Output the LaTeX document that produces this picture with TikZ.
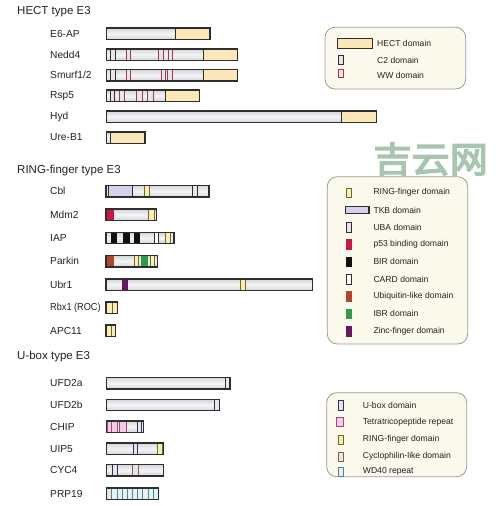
\documentclass[tikz,border=0pt]{standalone}
\usepackage{fontspec}
\setmainfont{Liberation Sans}
\newfontfamily\cjkwm[FakeBold=4]{Noto Sans CJK SC}
\definecolor{textc}{HTML}{222222}
\definecolor{bartop}{HTML}{D6D6DB}
\definecolor{barmid}{HTML}{F4F4F6}
\definecolor{barfill}{HTML}{E6E6EA}
\definecolor{barline}{HTML}{2E2E2E}
\definecolor{hectc}{HTML}{FBE7B8}
\definecolor{wwred}{HTML}{A8374A}
\definecolor{ringc}{HTML}{F6EFB0}
\definecolor{ringl}{HTML}{6F6A2A}
\definecolor{tkbc}{HTML}{D7D0EC}
\definecolor{tkbl}{HTML}{2E2450}
\definecolor{p53c}{HTML}{C81848}
\definecolor{birc}{HTML}{111111}
\definecolor{ublc}{HTML}{B2462C}
\definecolor{ibrc}{HTML}{2F9A4C}
\definecolor{zincc}{HTML}{6B1561}
\definecolor{tprc}{HTML}{F2CBE2}
\definecolor{tprl}{HTML}{9A4A7A}
\definecolor{uboxl}{HTML}{2B3358}
\definecolor{cycl}{HTML}{8A5C3C}
\definecolor{wdl}{HTML}{4F8796}
\definecolor{wdc}{HTML}{E6F0F2}
\definecolor{legbg}{HTML}{FBF9EC}
\definecolor{legline}{HTML}{9C9C92}
\definecolor{wmc}{HTML}{A6C6B0}
\newcommand\Pbody[3]{\shade[top color=bartop, bottom color=bartop, middle color=barmid] (#2,#1-5.7) rectangle (#3,#1+5.7);}
\newcommand\Pline[3]{\draw[outl] (#2,#1-5.7) rectangle (#3,#1+5.7);}
\newcommand\Pdom[5]{\filldraw[fill=#4, draw=#5, line width=0.8pt] (#2,#1-5.7) rectangle (#3,#1+5.7);}
\newcommand\Lsw[6]{\filldraw[fill=#5, draw=#6, line width=1pt] (#1,#2) rectangle (#3,#4);}
\tikzset{
  lab/.style={anchor=west, inner sep=0pt, font=\fontsize{10.2}{12}\selectfont, text=textc},
  ttl/.style={anchor=west, inner sep=0pt, font=\fontsize{11.5}{13}\selectfont, text=textc},
  leg/.style={anchor=west, inner sep=0pt, font=\fontsize{8.6}{10}\selectfont, text=textc},
  legbox/.style={fill=legbg, draw=legline, line width=0.8pt, rounded corners=10pt},
  outl/.style={draw=barline, line width=1.4pt},
}
\begin{document}
\begin{tikzpicture}[x=1pt,y=-1pt]
\useasboundingbox (0,0) rectangle (500,506);
\fill[white] (0,0) rectangle (500,506);

% watermark
\node[text=wmc, font=\cjkwm\fontsize{36}{36}\selectfont, inner sep=0pt, xscale=1.06] (wm) at (430.7,159) {吉云网};

% ================= HECT =================
\node[ttl] (thect) at (17,12) {HECT type E3};
\node[lab] (le6ap) at (50,33.7) {E6-AP};
\node[lab] (lnedd4) at (50,54.5) {Nedd4};
\node[lab] (lsmurf) at (50,75.2) {Smurf1/2};
\node[lab] (lrsp5) at (50,95.8) {Rsp5};
\node[lab] (lhyd) at (50,116.8) {Hyd};
\node[lab] (lureb) at (50,137.5) {Ure-B1};

% E6-AP
\Pbody{33.7}{106.7}{210}
\Pdom{33.7}{175}{210}{hectc}{barline}
\Pline{33.7}{106.7}{210}
% Nedd4
\Pbody{54.5}{106.7}{237.7}
\Pdom{54.5}{110}{115}{barfill}{barline}
\Pdom{54.5}{126}{130}{barfill}{wwred}
\Pdom{54.5}{158.3}{163.3}{barfill}{wwred}
\Pdom{54.5}{168.3}{172.7}{barfill}{wwred}
\Pdom{54.5}{203.3}{237.7}{hectc}{barline}
\Pline{54.5}{106.7}{237.7}
% Smurf1/2
\Pbody{75.2}{106.7}{237.7}
\Pdom{75.2}{110}{115}{barfill}{barline}
\Pdom{75.2}{126}{130}{barfill}{wwred}
\Pdom{75.2}{161}{165}{barfill}{wwred}
\Pdom{75.2}{167.5}{172.7}{barfill}{wwred}
\Pdom{75.2}{203.3}{237.7}{hectc}{barline}
\Pline{75.2}{106.7}{237.7}
% Rsp5
\Pbody{95.8}{106.7}{199.3}
\Pdom{95.8}{110}{114.3}{barfill}{barline}
\Pdom{95.8}{119}{124}{barfill}{wwred}
\Pdom{95.8}{136.7}{142.3}{barfill}{wwred}
\Pdom{95.8}{147.3}{153}{barfill}{wwred}
\Pdom{95.8}{165.7}{199.3}{hectc}{barline}
\Pline{95.8}{106.7}{199.3}
% Hyd
\Pbody{116.8}{106.7}{376.7}
\Pdom{116.8}{341.7}{376.7}{hectc}{barline}
\Pline{116.8}{106.7}{376.7}
% Ure-B1
\Pbody{137.5}{106.7}{145}
\Pdom{137.5}{110.3}{145}{hectc}{barline}
\Pline{137.5}{106.7}{145}

% legend 1
\draw[legbox] (325,27.3) rectangle (465.7,89);
\Lsw{337.7}{38.5}{372.7}{48}{hectc}{barline}
\Lsw{338}{55.5}{343}{64}{barfill}{barline}
\Lsw{338}{69}{343}{77.5}{barfill}{wwred}
\node[leg] (lg1a) at (377,43.5) {HECT domain};
\node[leg] (lg1b) at (377,60) {C2 domain};
\node[leg] (lg1c) at (377,75.5) {WW domain};

% ================= RING =================
\node[ttl] (tring) at (17,170.7) {RING-finger type E3};
\node[lab] (lcbl) at (50,191.3) {Cbl};
\node[lab] (lmdm2) at (50,214.8) {Mdm2};
\node[lab] (liap) at (50,238) {IAP};
\node[lab] (lparkin) at (50,261.3) {Parkin};
\node[lab] (lubr1) at (50,284.7) {Ubr1};
\node[lab] (lrbx1) at (50,307.8) {\scalebox{0.9}[1]{Rbx1 (ROC)}};
\node[lab] (lapc11) at (50,330.8) {APC11};

% Cbl
\Pbody{191.3}{106}{209}
\Pdom{191.3}{108.5}{132.7}{tkbc}{barline}
\Pdom{191.3}{144.3}{149.3}{ringc}{ringl}
\Pdom{191.3}{192.3}{197.3}{barfill}{barline}
\Pline{191.3}{106}{209}
% Mdm2
\Pbody{214.8}{106}{156.7}
\Pdom{214.8}{106.7}{113.5}{p53c}{p53c}
\Pdom{214.8}{148.3}{154}{ringc}{ringl}
\Pline{214.8}{106}{156.7}
% IAP
\Pbody{238}{106}{174}
\Pdom{238}{111}{116}{birc}{birc}
\Pdom{238}{123.3}{129.3}{birc}{birc}
\Pdom{238}{134}{139.3}{birc}{birc}
\Pdom{238}{154}{158.3}{white}{barline}
\Pdom{238}{165}{170.7}{ringc}{ringl}
\Pline{238}{106}{174}
% Parkin
\Pbody{261.3}{106}{157.3}
\Pdom{261.3}{107}{113.7}{ublc}{ublc}
\Pdom{261.3}{134}{138.6}{ringc}{ringl}
\Pdom{261.3}{141}{147.3}{ibrc}{ibrc}
\Pdom{261.3}{150}{154.3}{ringc}{ringl}
\Pline{261.3}{106}{157.3}
% Ubr1
\Pbody{284.7}{106}{312.7}
\Pdom{284.7}{122.7}{127.7}{zincc}{zincc}
\Pdom{284.7}{240.7}{245.7}{ringc}{ringl}
\Pline{284.7}{106}{312.7}
% Rbx1
\Pdom{307.8}{106.5}{112}{ringc}{ringl}
\Pdom{307.8}{112}{117.3}{ringc}{ringl}
\Pline{307.8}{106}{117.7}
% APC11
\Pdom{330.8}{106}{111}{ringc}{ringl}
\Pdom{330.8}{111}{115.7}{ringc}{ringl}
\Pline{330.8}{106}{115.7}

% legend 2
\draw[legbox] (327.3,176.7) rectangle (467.7,344);
\Lsw{346}{188}{351}{197.5}{ringc}{ringl}
\filldraw[fill=tkbc, draw=barline, line width=1.6pt] (345.5,206.5) rectangle (369,213.5);
\Lsw{346}{222.5}{351}{232}{barfill}{barline}
\Lsw{346}{239.5}{351}{249}{p53c}{p53c}
\Lsw{346}{257}{351}{266.5}{birc}{birc}
\Lsw{346}{274.5}{351}{284}{white}{barline}
\Lsw{346}{291.5}{351}{301}{ublc}{ublc}
\Lsw{346}{309}{351}{318.5}{ibrc}{ibrc}
\Lsw{346}{326.5}{351}{336}{zincc}{zincc}
\node[leg] (lg2a) at (373.3,192.7) {RING-finger domain};
\node[leg] (lg2b) at (373.3,210) {TKB domain};
\node[leg] (lg2c) at (373.3,227.3) {UBA domain};
\node[leg] (lg2d) at (373.3,244.5) {p53 binding domain};
\node[leg] (lg2e) at (373.3,261.7) {BIR domain};
\node[leg] (lg2f) at (373.3,279) {CARD domain};
\node[leg] (lg2g) at (373.3,296.3) {Ubiquitin-like domain};
\node[leg] (lg2h) at (373.3,313.7) {IBR domain};
\node[leg] (lg2i) at (373.3,331.3) {Zinc-finger domain};

% ================= U-box =================
\node[ttl] (tubox) at (17,357) {U-box type E3};
\node[lab] (lufd2a) at (50,383.2) {UFD2a};
\node[lab] (lufd2b) at (50,405) {UFD2b};
\node[lab] (lchip) at (50,426.7) {CHIP};
\node[lab] (luip5) at (50,448.8) {UIP5};
\node[lab] (lcyc4) at (50,470.2) {CYC4};
\node[lab] (lprp19) at (50,493.7) {PRP19};

% UFD2a
\Pbody{383.2}{106.7}{230}
\Pdom{383.2}{225}{229.3}{barfill}{uboxl}
\Pline{383.2}{106.7}{230}
% UFD2b
\Pbody{405}{106.7}{219.3}
\Pdom{405}{214.3}{219}{barfill}{uboxl}
\Pline{405}{106.7}{219.3}
% CHIP
\Pbody{426.7}{106.7}{143.3}
\Pdom{426.7}{107}{111}{tprc}{tprl}
\Pdom{426.7}{111}{117.3}{tprc}{tprl}
\Pdom{426.7}{119.3}{126}{tprc}{tprl}
\Pdom{426.7}{137.3}{141.7}{barfill}{uboxl}
\Pline{426.7}{106.7}{143.3}
% UIP5
\Pbody{448.8}{106.7}{163.3}
\Pdom{448.8}{133.3}{137.7}{barfill}{uboxl}
\Pdom{448.8}{157.3}{162.7}{ringc}{ringl}
\Pline{448.8}{106.7}{163.3}
% CYC4
\Pbody{470.2}{106.7}{163.3}
\Pdom{470.2}{112}{117.7}{barfill}{uboxl}
\Pdom{470.2}{132.7}{138.3}{barfill}{cycl}
\Pline{470.2}{106.7}{163.3}
% PRP19
\Pbody{493.7}{106.7}{158.3}
\Pdom{493.7}{106.7}{111.8}{barfill}{uboxl}
\foreach \i in {1,...,9} {
  \Pdom{493.7}{106.7+5.16*\i}{111.86+5.16*\i}{wdc}{wdl}
}
\Pline{493.7}{106.7}{158.3}

% legend 3
\draw[legbox] (326.7,392.7) rectangle (466.7,476.7);
\Lsw{338}{400.5}{343}{410}{barfill}{uboxl}
\Lsw{336.5}{417.5}{343}{426}{tprc}{tprl}
\Lsw{338}{435}{343}{444.5}{ringc}{ringl}
\Lsw{338}{452}{343}{461.5}{barfill}{cycl}
\Lsw{338}{467}{343}{476.5}{wdc}{wdl}
\node[leg] (lg3a) at (362.7,405) {U-box domain};
\node[leg] (lg3b) at (362.7,422) {Tetratricopeptide repeat};
\node[leg] (lg3c) at (362.7,439.3) {RING-finger domain};
\node[leg] (lg3d) at (362.7,456.3) {Cyclophilin-like domain};
\node[leg] (lg3e) at (362.7,471.5) {WD40 repeat};
\end{tikzpicture}
\end{document}
